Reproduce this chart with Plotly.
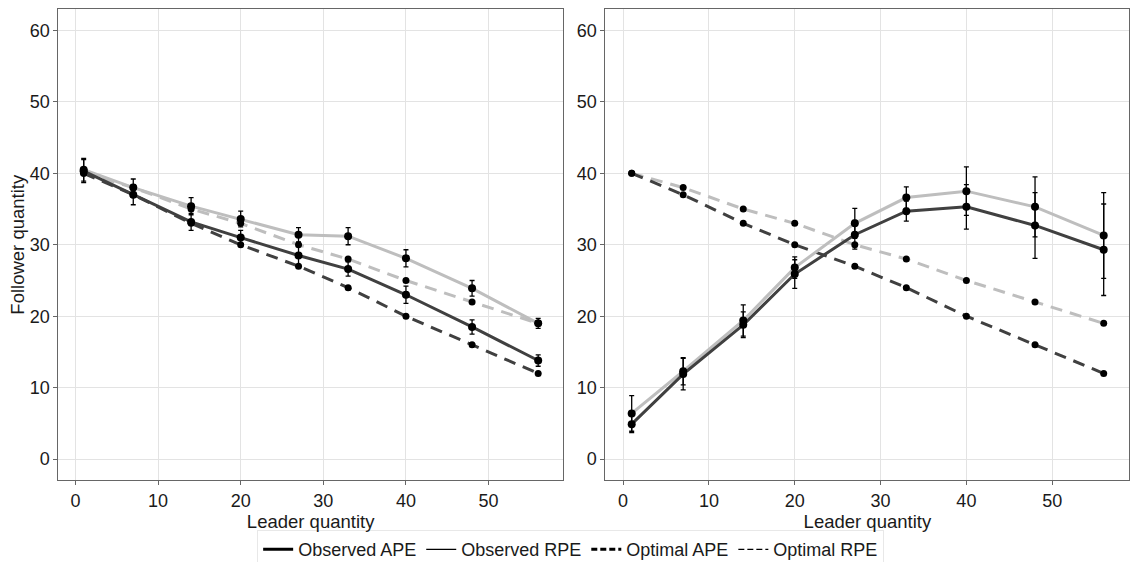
import plotly.graph_objects as go

# ---- data ----
leader = [1, 7, 14, 20, 27, 33, 40, 48, 56]

opt_ape = [40, 37, 33, 30, 27, 24, 20, 16, 12]
opt_rpe = [40, 38, 35, 33, 30, 28, 25, 22, 19]

obs_ape_left = [40.3, 37.0, 33.2, 31.0, 28.5, 26.6, 23.0, 18.5, 13.8]
err_ape_left = [1.6, 1.4, 1.2, 1.0, 1.3, 1.0, 1.2, 1.0, 0.8]
obs_rpe_left = [40.5, 38.0, 35.4, 33.6, 31.4, 31.2, 28.1, 23.9, 19.0]
err_rpe_left = [1.6, 1.2, 1.2, 1.1, 1.0, 1.2, 1.2, 1.1, 0.7]

obs_ape_right = [4.9, 11.9, 18.8, 25.9, 31.4, 34.7, 35.3, 32.7, 29.3]
err_ape_right = [1.2, 2.2, 1.8, 2.0, 2.0, 1.4, 3.1, 4.6, 6.4]
obs_rpe_right = [6.4, 12.3, 19.4, 26.8, 33.0, 36.6, 37.5, 35.3, 31.3]
err_rpe_right = [2.5, 1.9, 2.2, 1.5, 2.1, 1.5, 3.4, 4.2, 6.0]

x_ticks = [0, 10, 20, 30, 40, 50]
y_ticks = [0, 10, 20, 30, 40, 50, 60]

DARK = "#404040"
LIGHT = "#bebebe"
DASH = "12px,8px"

fig = go.Figure()

panels = [
    ("x", "y", obs_ape_left, err_ape_left, obs_rpe_left, err_rpe_left),
    ("x2", "y2", obs_ape_right, err_ape_right, obs_rpe_right, err_rpe_right),
]

for xa, ya, oa, ea, orp, er in panels:
    # lines
    fig.add_trace(go.Scatter(x=leader, y=opt_rpe, mode="lines", xaxis=xa, yaxis=ya,
                             line=dict(color=LIGHT, width=3, dash=DASH), showlegend=False, hoverinfo="skip"))
    fig.add_trace(go.Scatter(x=leader, y=opt_ape, mode="lines", xaxis=xa, yaxis=ya,
                             line=dict(color=DARK, width=3, dash=DASH), showlegend=False, hoverinfo="skip"))
    fig.add_trace(go.Scatter(x=leader, y=orp, mode="lines", xaxis=xa, yaxis=ya,
                             line=dict(color=LIGHT, width=3), showlegend=False, hoverinfo="skip"))
    fig.add_trace(go.Scatter(x=leader, y=oa, mode="lines", xaxis=xa, yaxis=ya,
                             line=dict(color=DARK, width=3), showlegend=False, hoverinfo="skip"))
    # points
    for yy in (opt_rpe, opt_ape):
        fig.add_trace(go.Scatter(x=leader, y=yy, mode="markers", xaxis=xa, yaxis=ya,
                                 marker=dict(color="black", size=7), showlegend=False))
    for yy, ee in ((orp, er), (oa, ea)):
        fig.add_trace(go.Scatter(x=leader, y=yy, mode="markers", xaxis=xa, yaxis=ya,
                                 marker=dict(color="black", size=8),
                                 error_y=dict(type="data", array=ee, visible=True,
                                              color="black", thickness=1.3, width=2.5),
                                 showlegend=False))

# legend entries
legend_specs = [
    ("Observed APE", dict(color="black", width=3)),
    ("Observed RPE", dict(color="black", width=1.3)),
    ("Optimal APE", dict(color="black", width=3, dash="6px,3px")),
    ("Optimal RPE", dict(color="black", width=1.3, dash="6px,3px")),
]
for name, ln in legend_specs:
    fig.add_trace(go.Scatter(x=[None], y=[None], mode="lines", name=name, line=ln, showlegend=True))

axis_common = dict(
    showline=True, mirror=True, linecolor="#666666", linewidth=1,
    ticks="outside", ticklen=4, tickcolor="#666666",
    showgrid=True, gridcolor="#e3e3e3", gridwidth=1, zeroline=False,
    tickfont=dict(size=18, color="#1a1a1a"),
)
xr = [-2.07, 59.0]
yr = [-2.95, 62.95]
ydom = [0.1455, 0.9835]
TF = 18.5

fig.update_layout(
    width=1130, height=562,
    margin=dict(l=0, r=0, t=0, b=0, autoexpand=False),
    paper_bgcolor="white", plot_bgcolor="white",
    font=dict(family="Liberation Sans, Arial, sans-serif", size=17, color="#1a1a1a"),
    xaxis=dict(domain=[0.0516, 0.4982], range=xr, tickvals=x_ticks, anchor="y",
               title=dict(text="Leader quantity", standoff=0, font=dict(size=TF)), **axis_common),
    yaxis=dict(domain=ydom, range=yr, tickvals=y_ticks, anchor="x",
               title=dict(text="Follower quantity", standoff=0, font=dict(size=TF)), **axis_common),
    xaxis2=dict(domain=[0.5357, 0.9995], range=xr, tickvals=x_ticks, anchor="y2",
                title=dict(text="Leader quantity", standoff=0, font=dict(size=TF)), **axis_common),
    yaxis2=dict(domain=ydom, range=yr, tickvals=y_ticks, anchor="x2", **axis_common),
    legend=dict(orientation="h", x=0.505, xanchor="center", y=0.022, yanchor="middle",
                bordercolor="#e8e8e8", borderwidth=1, bgcolor="white",
                font=dict(size=18, color="#1a1a1a"), itemwidth=30, tracegroupgap=0),
    showlegend=True,
)

fig.write_html("out.html")
